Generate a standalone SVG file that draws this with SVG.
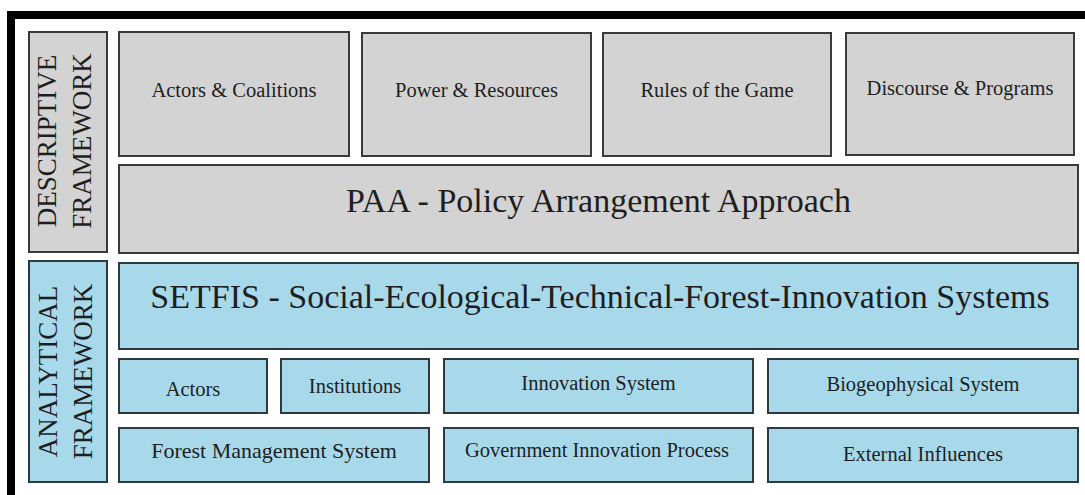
<svg xmlns="http://www.w3.org/2000/svg" width="1085" height="495" viewBox="0 0 1085 495">
  <style>
    .g { fill: #d3d3d3; stroke: #3a3a3a; stroke-width: 2; }
    .b { fill: #a8d9eb; stroke: #2e3a40; stroke-width: 2; }
    text { font-family: "Liberation Serif", "Times New Roman", serif; fill: #1e1e1e; text-anchor: middle; }
    .s { font-size: 20.5px; }
    .l { font-size: 34px; }
    .v { font-size: 27px; }
  </style>
  <rect x="0" y="0" width="1085" height="495" fill="#ffffff"/>
  <g id="frame">
    <rect x="7" y="11" width="1078" height="8" fill="#000000"/>
    <rect x="7" y="11" width="8" height="484" fill="#000000"/>
  </g>
  <g id="descriptive-label">
    <rect class="g" x="29" y="32" width="78" height="220"/>
    <text class="v" transform="translate(56,141) rotate(-90)">DESCRIPTIVE</text>
    <text class="v" transform="translate(91,141) rotate(-90)">FRAMEWORK</text>
  </g>
  <g id="actors-coalitions">
    <rect class="g" x="119" y="32" width="230" height="124"/>
    <text class="s" x="234" y="97">Actors &amp; Coalitions</text>
  </g>
  <g id="power-resources">
    <rect class="g" x="362" y="33" width="229" height="123"/>
    <text class="s" x="476.5" y="97">Power &amp; Resources</text>
  </g>
  <g id="rules-game">
    <rect class="g" x="603" y="33" width="228" height="123"/>
    <text class="s" x="717" y="97">Rules of the Game</text>
  </g>
  <g id="discourse-programs">
    <rect class="g" x="846" y="33" width="228" height="122"/>
    <text class="s" x="960" y="95">Discourse &amp; Programs</text>
  </g>
  <g id="paa">
    <rect class="g" x="119" y="165" width="959" height="88"/>
    <text class="l" x="598.5" y="212">PAA - Policy Arrangement Approach</text>
  </g>
  <g id="analytical-label">
    <rect class="b" x="29" y="261" width="78" height="221"/>
    <text class="v" transform="translate(57,371.5) rotate(-90)">ANALYTICAL</text>
    <text class="v" transform="translate(92,371.5) rotate(-90)">FRAMEWORK</text>
  </g>
  <g id="setfis">
    <rect class="b" x="119" y="263" width="959" height="86"/>
    <text class="l" x="600" y="308">SETFIS - Social-Ecological-Technical-Forest-Innovation Systems</text>
  </g>
  <g id="actors">
    <rect class="b" x="119" y="359" width="148" height="54"/>
    <text class="s" x="193" y="396">Actors</text>
  </g>
  <g id="institutions">
    <rect class="b" x="281" y="359" width="148" height="54"/>
    <text class="s" x="355" y="393">Institutions</text>
  </g>
  <g id="innovation-system">
    <rect class="b" x="444" y="359" width="309" height="54"/>
    <text class="s" x="598.5" y="390">Innovation System</text>
  </g>
  <g id="biogeophysical-system">
    <rect class="b" x="768" y="359" width="310" height="54"/>
    <text class="s" x="923" y="390.5">Biogeophysical System</text>
  </g>
  <g id="forest-management-system">
    <rect class="b" x="119" y="428" width="310" height="54"/>
    <text class="s" x="274" y="458" style="font-size:22px">Forest Management System</text>
  </g>
  <g id="government-innovation-process">
    <rect class="b" x="444" y="428" width="309" height="54"/>
    <text class="s" x="597" y="457">Government Innovation Process</text>
  </g>
  <g id="external-influences">
    <rect class="b" x="768" y="428" width="310" height="54"/>
    <text class="s" x="923" y="460.5">External Influences</text>
  </g>
  <g id="connectors"></g>
</svg>
